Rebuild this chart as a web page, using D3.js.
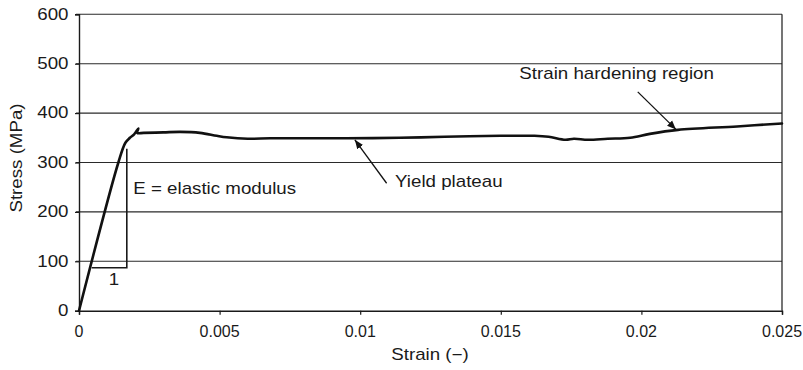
<!DOCTYPE html>
<html>
<head>
<meta charset="utf-8">
<script src="https://cdn.jsdelivr.net/npm/d3@7"></script>
<style>
  html, body { margin: 0; padding: 0; background: #fff; }
  svg text { font-family: "Liberation Sans", Arial, Helvetica, sans-serif; fill: #1a1a1a; }
</style>
</head>
<body>
<svg id="chart" width="803" height="370"></svg>
<script>
// ---- data ----
const strain = [0, 0.0014, 0.00165, 0.00181, 0.00196, 0.00211, 0.00207, 0.0023, 0.0030, 0.0036, 0.0043, 0.0049, 0.00525, 0.0060, 0.0068, 0.0079, 0.0095, 0.0114, 0.0130, 0.0150, 0.0162, 0.0167, 0.0173, 0.0176, 0.0181, 0.0188, 0.0196, 0.0203, 0.0213, 0.0234, 0.0250];
const stress = [0, 300, 340, 350, 357, 369, 360, 360, 361, 362, 360, 354, 351, 348, 349, 349, 349, 350, 352, 354, 354, 352, 346, 348, 346, 348, 350, 358, 366, 373, 379];
const xTicks = [0, 0.005, 0.01, 0.015, 0.02, 0.025];
const xTickLabels = ["0", "0.005", "0.01", "0.015", "0.02", "0.025"];
const yTicks = [0, 100, 200, 300, 400, 500, 600];
const yTickLabels = ["0", "100", "200", "300", "400", "500", "600"];
const xTitle = "Strain (\u2212)";
const yTitle = "Stress (MPa)";
// slope triangle: [strain, stress] corners
const triStrain = [0.00045, 0.0017, 0.0017];
const triStress = [87, 87, 328];
// text annotations
const noteText = ["1", "E = elastic modulus", "Yield plateau", "Strain hardening region"];
const noteStrain = [0.00124, 0.00193, 0.01124, 0.01566];
const noteStress = [52, 236, 251, 470];
const noteAnchor = ["middle", "start", "start", "start"];
// arrows: tail -> tip
const arrowTailStrain = [0.01094, 0.01987];
const arrowTailStress = [258, 443];
const arrowTipStrain = [0.00981, 0.02123];
const arrowTipStress = [346, 367];

// ---- layout ----
const svg = d3.select("#chart");
const x = d3.scaleLinear().domain([0, 0.025]).range([79, 782]);
const y = d3.scaleLinear().domain([0, 600]).range([310.7, 14.3]);
const SX = 1.17, FS = 16;

function label(g, px, py, txt, anchor, rotate, sx) {
  const s = sx === undefined ? SX : sx;
  g.append("text")
    .attr("transform", `translate(${px},${py})` + (rotate ? ` rotate(${rotate})` : "") + ` scale(${s},1)`)
    .attr("text-anchor", anchor)
    .attr("font-size", FS)
    .text(txt);
}

// gridlines
svg.append("g").selectAll("line").data(yTicks.slice(1)).join("line")
  .attr("x1", 76).attr("x2", x(0.025))
  .attr("y1", d => y(d)).attr("y2", d => y(d))
  .attr("stroke", "#2a2a2a").attr("stroke-width", 1.1);

// axes
const yAxis = d3.axisLeft(y).tickValues(yTicks).tickSize(4).tickFormat("");
const xAxis = d3.axisBottom(x).tickValues(xTicks).tickSize(4).tickFormat("");
svg.append("g").attr("transform", `translate(${x(0)},0)`).call(yAxis)
  .call(g => g.select(".domain").attr("stroke", "#1a1a1a").attr("stroke-width", 1.4))
  .call(g => g.selectAll(".tick line").attr("stroke", "#1a1a1a").attr("stroke-width", 1.2));
svg.append("g").attr("transform", `translate(0,${y(0)})`).call(xAxis)
  .call(g => g.select(".domain").attr("stroke", "#1a1a1a").attr("stroke-width", 1.4))
  .call(g => g.selectAll(".tick line").attr("stroke", "#1a1a1a").attr("stroke-width", 1.2));
// right border
svg.append("line").attr("x1", x(0.025)).attr("x2", x(0.025))
  .attr("y1", y(600)).attr("y2", y(0)).attr("stroke", "#1a1a1a").attr("stroke-width", 1.2);

// tick labels
const tl = svg.append("g");
yTicks.forEach((v, i) => label(tl, 68.5, y(v) + 5.3, yTickLabels[i], "end"));
xTicks.forEach((v, i) => label(tl, x(v), 336.5, xTickLabels[i], "middle", 0, 1.0));
// axis titles
label(svg, 430, 359.5, xTitle, "middle");
label(svg, 22, 158, yTitle, "middle", -90);

// slope triangle
svg.append("path")
  .attr("d", d3.line().x(d => x(d[0])).y(d => y(d[1]))(triStrain.map((s, i) => [s, triStress[i]])))
  .attr("fill", "none").attr("stroke", "#1a1a1a").attr("stroke-width", 1.6);

// curve
svg.append("path")
  .attr("d", d3.line().x(d => x(d[0])).y(d => y(d[1])).curve(d3.curveCatmullRom.alpha(0.5))(strain.map((s, i) => [s, stress[i]])))
  .attr("fill", "none").attr("stroke", "#111").attr("stroke-width", 2.6)
  .attr("stroke-linejoin", "round").attr("stroke-linecap", "round");

// annotations
noteText.forEach((t, i) => label(svg, x(noteStrain[i]), y(noteStress[i]), t, noteAnchor[i]));

// arrows
svg.append("defs").append("marker")
  .attr("id", "ah").attr("viewBox", "0 0 10 10").attr("refX", 10).attr("refY", 5)
  .attr("markerWidth", 9).attr("markerHeight", 9).attr("markerUnits", "userSpaceOnUse")
  .attr("orient", "auto")
  .append("path").attr("d", "M0,1 L10,5 L0,9 Z").attr("fill", "#111");
arrowTailStrain.forEach((s, i) => {
  svg.append("line")
    .attr("x1", x(s)).attr("y1", y(arrowTailStress[i]))
    .attr("x2", x(arrowTipStrain[i])).attr("y2", y(arrowTipStress[i]))
    .attr("stroke", "#111").attr("stroke-width", 1.3)
    .attr("marker-end", "url(#ah)");
});
</script>
</body>
</html>
